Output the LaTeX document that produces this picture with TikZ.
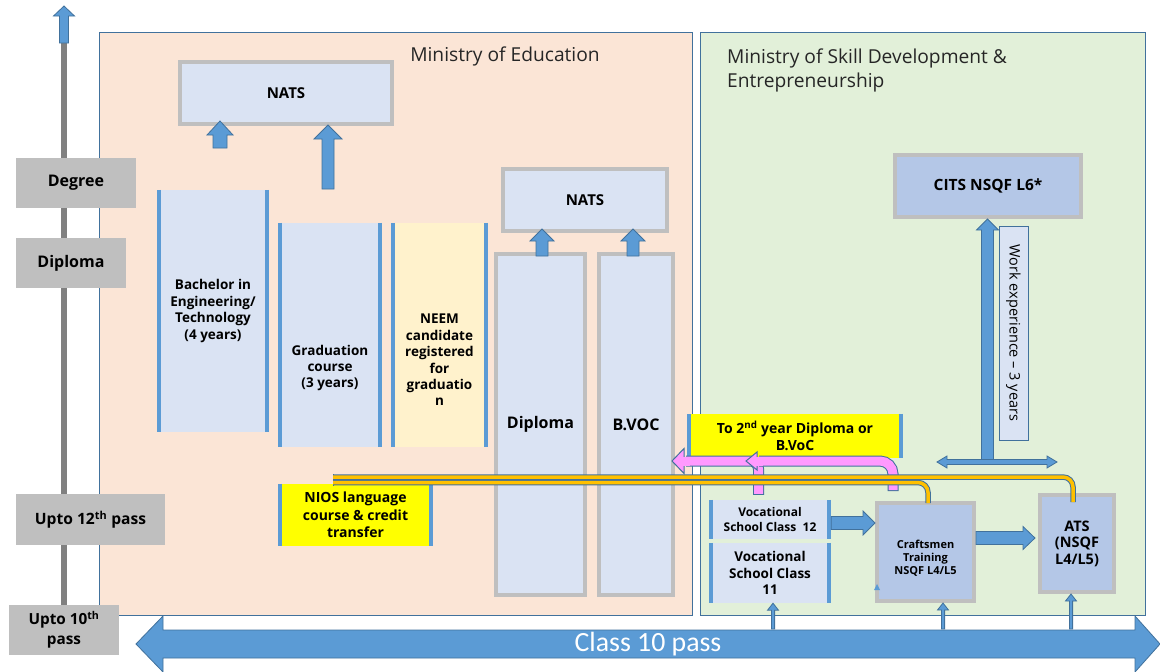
\documentclass[tikz,border=0pt]{standalone}
\usepackage{fontspec}
\setmainfont{Open Sans}
\newfontfamily\barfont{Carlito}
\usetikzlibrary{calc}

\definecolor{moefill}{HTML}{FBE5D6}
\definecolor{msdefill}{HTML}{E2F0D9}
\definecolor{panelline}{HTML}{41719C}
\definecolor{lightbox}{HTML}{DAE3F3}
\definecolor{midbox}{HTML}{B4C7E7}
\definecolor{frame}{HTML}{BFBFBF}
\definecolor{arrowblue}{HTML}{5B9BD5}
\definecolor{arrowline}{HTML}{41719C}
\definecolor{axisgray}{HTML}{808080}
\definecolor{pinkarrow}{HTML}{FF99FF}
\definecolor{orangeline}{HTML}{FFC000}
\definecolor{neem}{HTML}{FFF2CC}
\definecolor{hilite}{HTML}{FFFF00}

% font size; \fszx also takes the baselineskip factor
\newcommand{\fszx}[2]{\fontsize{#2}{\fpeval{round(#1*#2,2)}}\selectfont}
\newcommand{\fsz}[1]{\fszx{1.24}{#1}}

% block arrow pointing up: tail, tip, half body, half head, head length
\newcommand{\upblock}[5]{%
  \filldraw[blk] let \p1=#1, \p2=#2 in
    (\x1-#3,\y1) -- (\x1-#3,\y2-#5) -- (\x1-#4,\y2-#5) -- (\x1,\y2)
    -- (\x1+#4,\y2-#5) -- (\x1+#3,\y2-#5) -- (\x1+#3,\y1) -- cycle;}
% block arrow pointing right: tail, tip, half body, half head, head length
\newcommand{\rightblock}[5]{%
  \filldraw[blk] let \p1=#1, \p2=#2 in
    (\x1,\y1-#3) -- (\x2-#5,\y1-#3) -- (\x2-#5,\y1-#4) -- (\x2,\y1)
    -- (\x2-#5,\y1+#4) -- (\x2-#5,\y1+#3) -- (\x1,\y1+#3) -- cycle;}

\begin{document}
\begin{tikzpicture}[x=1pt,y=-1pt,
  panel/.style={draw=panelline, line width=1pt, inner sep=0},
  title/.style={inner sep=0, font=\fsz{19.2}, text=black!85},
  level/.style={fill=frame, inner sep=0, align=center, font=\bfseries\fsz{16}},
  framed/.style={fill=lightbox, draw=frame, line width=4pt, inner sep=0, align=center},
  strip/.style={fill=lightbox, inner sep=0, align=center},
  txt/.style={inner sep=0, align=center},
  edge/.style={draw=arrowblue, line width=3.5pt},
  blk/.style={fill=arrowblue, draw=arrowline, line width=0.8pt},
  pinkout/.style={draw=arrowline, line width=11pt},
  pinkin/.style={draw=pinkarrow, line width=9pt},
  orangeout/.style={draw=arrowline, line width=5.5pt, rounded corners=10pt},
  orangein/.style={draw=orangeline, line width=3.5pt, rounded corners=10pt}]

\useasboundingbox (0,0) rectangle (1160,672);
\fill[white] (0,0) rectangle (1160,672);

% ministries
\node[panel, fill=moefill, minimum width=593, minimum height=583] (moe) at (395.5,323.5) {};
\node[panel, fill=msdefill, minimum width=445, minimum height=583] (msde) at (922.5,323.5) {};
\node[title] (moetitle) at (505,56) {Ministry of Education};
\node[title, anchor=west, align=left] (msdetitle) at (727,70.5) {Ministry of Skill Development \&\\Entrepreneurship};

% qualification axis
\coordinate (axlow) at (64,605);
\coordinate (axbot) at (64,43);
\coordinate (axtop) at (64,6);
\draw[axisgray, line width=6pt] (axlow) -- (axbot);
\upblock{(axbot)}{(axtop)}{4.5pt}{10.5pt}{10pt}

\node[level, minimum width=120, minimum height=50] (deg) at (76,183) {Degree};
\node[level, minimum width=110, minimum height=50] (dip) at (71,263) {Diploma};
\node[level, minimum width=149, minimum height=51, font=\bfseries\fsz{15.6}] (up12) at (90.5,519.5) {Upto 12\textsuperscript{th} pass};
\node[level, minimum width=110, minimum height=50, font=\bfseries\fszx{1.3}{15.3}] (up10) at (64,630) {Upto 10\textsuperscript{th}\\pass};

% Ministry of Education courses
\node[framed, minimum width=212, minimum height=62, font=\bfseries\fsz{15}] (nats1) at (286,93) {NATS};
\node[strip, minimum width=108, minimum height=242, font=\bfseries\fszx{1.22}{13.5}] (bach) at (213,311) {Bachelor in\\Engineering/\\Technology\\(4 years)};
\node[strip, minimum width=100, minimum height=224] (grad) at (330,335) {};
\node[txt, font=\bfseries\fszx{1.22}{13.5}] (gradtext) at (330,368) {Graduation\\course\\(3 years)};
\node[strip, fill=neem, minimum width=93, minimum height=224] (neem) at (439.5,335) {};
\node[txt, font=\bfseries\fszx{1.22}{13.5}] (neemtext) at (439.5,360) {NEEM\\candidate\\registered\\for\\graduatio\\n};

\node[framed, minimum width=164, minimum height=62, font=\bfseries\fsz{15}] (nats2) at (585,200) {NATS};
\node[framed, minimum width=89, minimum height=341, font=\bfseries\fsz{16}] (dipl) at (540.5,424.5) {Diploma};
\node[framed, minimum width=74, minimum height=341, font=\bfseries\fsz{16}] (bvoc) at (636,424.5) {B.VOC};

\node[strip, fill=hilite, minimum width=151, minimum height=62, font=\bfseries\fsz{14}] (nios) at (355.5,515) {NIOS language\\course \& credit\\transfer};

% skill development courses
\node[strip, fill=hilite, minimum width=212, minimum height=44, font=\bfseries\fszx{1.2}{14}] (tosecond) at (795,436) {To 2\textsuperscript{nd} year Diploma or\\B.VoC};
\node[strip, minimum width=118, minimum height=39, font=\bfseries\fsz{12}] (voc12) at (770,519.5) {Vocational\\School Class\ \ 12};
\node[strip, minimum width=118, minimum height=60, font=\bfseries\fszx{1.2}{13.5}] (voc11) at (770,573) {Vocational\\School Class\\11};
\node[framed, fill=midbox, minimum width=97, minimum height=98] (craft) at (925.5,552) {};
\node[txt, font=\bfseries\fszx{1.18}{11}] (crafttext) at (925.5,558) {Craftsmen\\Training\\NSQF L4/L5};
\node[framed, fill=midbox, minimum width=74, minimum height=97, font=\bfseries\fszx{1.14}{14.5}] (ats) at (1077,543.5) {ATS\\(NSQF\\L4/L5)};
\node[framed, fill=midbox, minimum width=186, minimum height=62, font=\bfseries\fsz{15.5}] (cits) at (988,186) {CITS NSQF L6*};
\fill[arrowblue] (874,590) -- (880,590) -- (877,584) -- cycle;

% blue side rules of the course strips
\foreach \n in {bach,grad,neem,nios,tosecond,voc12,voc11}
  \draw[edge] (\n.north west) -- (\n.south west) (\n.north east) -- (\n.south east);

% progression arrows
\coordinate (a1) at (220,148);
\coordinate (a2) at (328,189);
\upblock{(a1)}{($(nats1.south)+(0,-5)$)}{7pt}{13pt}{14pt}
\upblock{(a2)}{($(nats1.south)+(0,-1)$)}{6pt}{14pt}{14pt}
\upblock{($(dipl.north)+(1.5,4)$)}{($(nats2.south)+(0,-4)$)}{6pt}{12pt}{12pt}
\upblock{($(bvoc.north)+(-3,4)$)}{($(nats2.south)+(0,-4)$)}{6pt}{12pt}{12pt}
\rightblock{($(voc12.east)+(2,3.5)$)}{(craft.west)}{6.5pt}{12pt}{12pt}
\rightblock{($(craft.east)+(0,-14)$)}{($(ats.west)+(-3,0)$)}{6.5pt}{11.5pt}{12pt}

% work experience route to CITS
\coordinate (wmid) at (987.5,462);
\coordinate (wl) at (937,462);
\coordinate (wr) at (1057,462);
\upblock{(wmid)}{(cits.south)}{6pt}{11pt}{11pt}
\filldraw[blk] let \p1=(wl), \p2=(wr) in
  (\x1,\y1) -- (\x1+10pt,\y1+6pt) -- (\x1+10pt,\y1+2.5pt) -- (\x2-10pt,\y1+2.5pt)
  -- (\x2-10pt,\y1+6pt) -- (\x2,\y1) -- (\x2-10pt,\y1-6pt) -- (\x2-10pt,\y1-2.5pt)
  -- (\x1+10pt,\y1-2.5pt) -- (\x1+10pt,\y1-6pt) -- cycle;
\node[draw=panelline, line width=1pt, fill=lightbox, rotate=-90, minimum width=214, minimum height=29, inner sep=0, font=\fsz{14.5}] (work) at (1013.5,333) {Work experience – 3 years};

% lateral entry to 2nd year (pink U-turn arrows)
\coordinate (p1s) at ($(voc12.north)+(-11.5,-5)$);
\coordinate (p2s) at ($(craft.north)+(-32.5,-10)$);
\draw[pinkout, rounded corners=8pt] (p1s) |- (686,461);
\draw[pinkin, rounded corners=8pt] ($(p1s)+(0,-1)$) |- (686,461);
\filldraw[fill=pinkarrow, draw=arrowline, line width=1pt] (684,448.5) -- (672,461) -- (684,473.5) -- cycle;
\draw[pinkin] (682.5,461) -- (690,461);
\draw[pinkout, rounded corners=13pt] (p2s) |- (759,461);
\draw[pinkin, rounded corners=13pt] ($(p2s)+(0,-1)$) |- (759,461);
\filldraw[fill=pinkarrow, draw=arrowline, line width=1pt] (757,452) -- (746,461) -- (757,470) -- cycle;
\draw[pinkin] (755.5,461) -- (763,461);

% NIOS credit transfer links (orange)
\coordinate (lk1) at (333,477);
\coordinate (lk2) at (333,482.5);
\draw[arrowline, line width=1pt] (333,474) -- (333,485.5);
\draw[orangeout] (lk1) -| ($(ats.north)+(-4,9)$);
\draw[orangein] (lk1) -| ($(ats.north)+(-4,9)$);
\draw[orangeout] (lk2) -| ($(craft.north)+(2.5,2)$);
\draw[orangein] (lk2) -| ($(craft.north)+(2.5,2)$);

% Class 10 pass bar
\coordinate (barL) at (136,644);
\coordinate (barR) at (1160,644);
\filldraw[blk] let \p1=(barL), \p2=(barR) in
  (\x1,\y1) -- (\x1+27pt,\y1+28pt) -- (\x1+27pt,\y1+14pt) -- (\x2-25pt,\y1+14pt)
  -- (\x2-25pt,\y1+28pt) -- (\x2,\y2) -- (\x2-25pt,\y1-28pt) -- (\x2-25pt,\y1-14pt)
  -- (\x1+27pt,\y1-14pt) -- (\x1+27pt,\y1-28pt) -- cycle;
\node[txt, font=\barfont\fsz{27.8}, text=white] (class10) at (648,644) {Class 10 pass};

\coordinate (u1) at (773,629);
\coordinate (u2) at (943,629);
\coordinate (u3) at (1071,629);
\upblock{(u1)}{(voc11.south)}{1.6pt}{5.5pt}{7pt}
\upblock{(u2)}{(craft.south)}{1.6pt}{5.5pt}{7pt}
\upblock{(u3)}{(ats.south)}{1.6pt}{5.5pt}{7pt}

\end{tikzpicture}
\end{document}
